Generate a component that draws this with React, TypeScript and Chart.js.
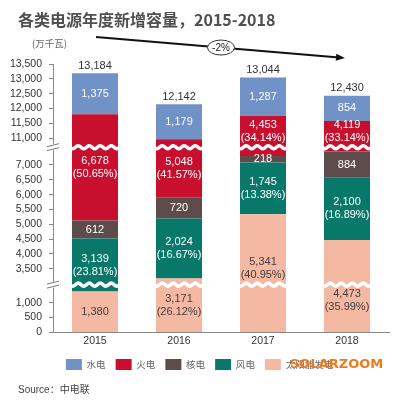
import React, { useEffect, useRef } from 'react';
import { Chart, registerables, LinearScale } from 'chart.js';

// ---- data ----
const years = ['2015', '2016', '2017', '2018'];
const hydro = [1375, 1179, 1287, 854];
const thermal = [6678, 5048, 4453, 4119];
const nuclear = [612, 720, 218, 884];
const wind = [3139, 2024, 1745, 2100];
const solar = [1380, 3171, 5341, 4473];
const totals = [13184, 12142, 13044, 12430];
const thermalPct = ['50.65%', '41.57%', '34.14%', '33.14%'];
const windPct = ['23.81%', '16.67%', '13.38%', '16.89%'];
const solarPct = [null, '26.12%', '40.95%', '35.99%'];
const seriesNames = ['水电', '火电', '核电', '风电', '太阳能发电'];
const yTicks = [0, 500, 1000, 3500, 4000, 4500, 5000, 5500, 6000, 6500, 7000, 11000, 11500, 12000, 12500, 13000, 13500];
// value ranges kept on the broken axis
const axisSegments: [number, number][] = [[0, 1610], [2967, 7600], [10696, 13500]];
const changeLabel = '-2%';
const titleText = '各类电源年度新增容量，2015-2018';
const unitText = '(万千瓦)';
const sourceText = 'Source：中电联';
const watermark = 'SOLARZOOM';

const FONT = '"Liberation Sans", "Noto Sans CJK SC", sans-serif';
const CJK = '"Noto Sans CJK SC", "Liberation Sans", sans-serif';

function toVirtual(v: number) {
  let acc = 0;
  for (const [a, b] of axisSegments) {
    if (v <= a) return acc;
    if (v <= b) return acc + (v - a);
    acc += b - a;
  }
  return acc;
}
function fromVirtual(t: number) {
  let acc = 0;
  for (const [a, b] of axisSegments) {
    const len = b - a;
    if (t <= acc + len) return a + (t - acc);
    acc += len;
  }
  return axisSegments[axisSegments.length - 1][1];
}

class BrokenScale extends LinearScale {
  static id = 'broken';
  static defaults = {};
  buildTicks() {
    (this as any).start = this.min;
    (this as any).end = this.max;
    return yTicks.filter((v) => v >= this.min && v <= this.max).map((v) => ({ value: v }));
  }
  getPixelForValue(value: number) {
    const tot = toVirtual(this.max);
    return this.getPixelForDecimal(toVirtual(value) / tot);
  }
  getValueForPixel(pixel: number) {
    return fromVirtual(this.getDecimalForPixel(pixel) * toVirtual(this.max));
  }
}

Chart.register(...registerables, BrokenScale as any);

const fmt = (v: number) => v.toLocaleString('en-US');

function drawWave(ctx: CanvasRenderingContext2D, x0: number, x1: number, y: number) {
  ctx.beginPath();
  for (let x = x0; x <= x1; x += 1) {
    const yy = y + 1.5 * Math.sin(((x - x0) / 11) * Math.PI * 2);
    if (x === x0) ctx.moveTo(x, yy);
    else ctx.lineTo(x, yy);
  }
  ctx.strokeStyle = '#ffffff';
  ctx.lineWidth = 3.5;
  ctx.stroke();
}

export default function App() {
  const ref = useRef<HTMLCanvasElement | null>(null);

  useEffect(() => {
    if (!ref.current) return;
    const series = [
      { name: seriesNames[4], data: solar, color: '#F5B8A2', pct: solarPct, text: '#404040' },
      { name: seriesNames[3], data: wind, color: '#08786A', pct: windPct, text: '#ffffff' },
      { name: seriesNames[2], data: nuclear, color: '#5E4C4C', pct: null, text: '#ffffff' },
      { name: seriesNames[1], data: thermal, color: '#C8102E', pct: thermalPct, text: '#ffffff' },
      { name: seriesNames[0], data: hydro, color: '#7092C6', pct: null, text: '#ffffff' },
    ];

    const decor = {
      id: 'decor',
      afterDatasetsDraw(chart: any) {
        const ctx: CanvasRenderingContext2D = chart.ctx;
        const ys = chart.scales.y;
        const area = chart.chartArea;
        const breaks = axisSegments.slice(0, -1).map((s) => ys.getPixelForValue(s[1]));
        ctx.save();
        // wavy breaks across bars
        const meta0 = chart.getDatasetMeta(0);
        meta0.data.forEach((bar: any) => {
          const { x, width } = bar.getProps(['x', 'width'], true);
          breaks.forEach((by) => drawWave(ctx, x - width / 2 - 2, x + width / 2 + 2, by));
        });
        // axis break marks
        breaks.forEach((by) => {
          const ax = area.left;
          ctx.fillStyle = '#ffffff';
          ctx.fillRect(ax - 3, by - 3, 6, 6);
          ctx.strokeStyle = '#777';
          ctx.lineWidth = 1;
          ctx.beginPath();
          ctx.moveTo(ax - 6, by - 0.5);
          ctx.lineTo(ax + 6, by - 3.5);
          ctx.moveTo(ax - 6, by + 3.5);
          ctx.lineTo(ax + 6, by + 0.5);
          ctx.stroke();
        });
        // segment labels
        ctx.font = '11px ' + FONT;
        ctx.textAlign = 'center';
        ctx.textBaseline = 'middle';
        series.forEach((s, d) => {
          const meta = chart.getDatasetMeta(d);
          meta.data.forEach((bar: any, i: number) => {
            const { x, y, base } = bar.getProps(['x', 'y', 'base'], true);
            const lines = [fmt(s.data[i])];
            if (s.pct && s.pct[i]) lines.push('(' + s.pct[i] + ')');
            const lh = 13;
            const half = (lines.length * lh) / 2;
            let c = (y + base) / 2;
            breaks.forEach((by) => {
              if (c - half < by + 3 && c + half > by - 3) {
                c = c < by ? by - 3 - half : by + 3 + half;
              }
            });
            ctx.fillStyle = s.text;
            lines.forEach((t, j) => ctx.fillText(t, x, c - half + lh / 2 + j * lh));
          });
        });
        // totals
        ctx.fillStyle = '#333333';
        ctx.textBaseline = 'bottom';
        meta0.data.forEach((bar: any, i: number) => {
          const { x } = bar.getProps(['x'], true);
          ctx.fillText(fmt(totals[i]), x, ys.getPixelForValue(totals[i]) - 2);
        });
        ctx.restore();
      },
      afterDraw(chart: any) {
        const ctx: CanvasRenderingContext2D = chart.ctx;
        const meta0 = chart.getDatasetMeta(0);
        const first = meta0.data[0];
        const last = meta0.data[meta0.data.length - 1];
        ctx.save();
        // title
        ctx.fillStyle = '#4f4f4f';
        ctx.font = 'bold 16px ' + CJK;
        ctx.textAlign = 'left';
        ctx.textBaseline = 'middle';
        ctx.fillText(titleText, 18, 20);
        // unit
        ctx.fillStyle = '#666';
        ctx.font = '9.5px ' + CJK;
        ctx.fillText(unitText, 32, 43);
        // trend arrow
        const x0 = first.x + 1, y0 = 37, x1 = last.x - 2, y1 = 58;
        ctx.strokeStyle = '#111';
        ctx.lineWidth = 1.8;
        ctx.beginPath();
        ctx.moveTo(x0, y0);
        ctx.lineTo(x1 - 6, y1 - 0.5);
        ctx.stroke();
        const ang = Math.atan2(y1 - y0, x1 - x0);
        ctx.fillStyle = '#111';
        ctx.beginPath();
        ctx.moveTo(x1, y1);
        ctx.lineTo(x1 - 9 * Math.cos(ang) + 3.5 * Math.sin(ang), y1 - 9 * Math.sin(ang) - 3.5 * Math.cos(ang));
        ctx.lineTo(x1 - 9 * Math.cos(ang) - 3.5 * Math.sin(ang), y1 - 9 * Math.sin(ang) + 3.5 * Math.cos(ang));
        ctx.closePath();
        ctx.fill();
        const ex = 221;
        const ey = y0 + ((ex - x0) / (x1 - x0)) * (y1 - y0);
        ctx.beginPath();
        ctx.ellipse(ex, ey, 13.5, 7.5, 0, 0, Math.PI * 2);
        ctx.fillStyle = '#fff';
        ctx.fill();
        ctx.strokeStyle = '#333';
        ctx.lineWidth = 1;
        ctx.stroke();
        ctx.fillStyle = '#222';
        ctx.font = '10px ' + FONT;
        ctx.textAlign = 'center';
        ctx.fillText(changeLabel, ex, ey + 0.5);
        // source
        ctx.textAlign = 'left';
        ctx.fillStyle = '#444';
        ctx.font = '10px ' + FONT;
        ctx.fillText(sourceText, 18, 390);
        // watermark
        ctx.fillStyle = '#F07A1A';
        ctx.font = 'bold 13px "DejaVu Sans", sans-serif';
        ctx.fillText(watermark, 290, 365);
        ctx.restore();
      },
    };

    const chart = new Chart(ref.current, {
      type: 'bar',
      data: {
        labels: years,
        datasets: series.map((s) => ({
          label: s.name,
          data: s.data,
          backgroundColor: s.color,
          borderWidth: 0,
          barPercentage: 0.548,
          categoryPercentage: 1,
        })),
      },
      options: {
        animation: false,
        responsive: false,
        layout: { padding: { top: 64, left: 10, right: 4, bottom: 20 } },
        plugins: {
          legend: {
            position: 'bottom',
            reverse: true,
            labels: {
              boxWidth: 16,
              boxHeight: 11,
              padding: 10,
              color: '#666',
              font: { size: 9.5, family: CJK },
            },
          },
          tooltip: { enabled: false },
        },
        scales: {
          x: {
            stacked: true,
            grid: { display: false, drawTicks: false },
            border: { display: true, color: '#888' },
            ticks: { color: '#333', font: { size: 10.5, family: FONT }, padding: 2 },
          },
          y: {
            type: 'broken' as any,
            stacked: true,
            min: 0,
            max: 13500,
            afterFit: (s: any) => { s.width = 43; },
            grid: { display: true, drawOnChartArea: false, drawTicks: true, tickLength: 4, color: '#888' },
            border: { display: true, color: '#888' },
            ticks: {
              autoSkip: false,
              padding: 7,
              color: '#333',
              font: { size: 10.5, family: FONT },
              callback: (v: any) => fmt(Number(v)),
            },
          },
        },
      },
      plugins: [decor],
    } as any);
    return () => chart.destroy();
  }, []);

  return (
    <div style={{ position: 'absolute', left: 0, top: 0, width: 393, height: 400, background: '#fff' }}>
      <canvas ref={ref} width={393} height={400} />
    </div>
  );
}
